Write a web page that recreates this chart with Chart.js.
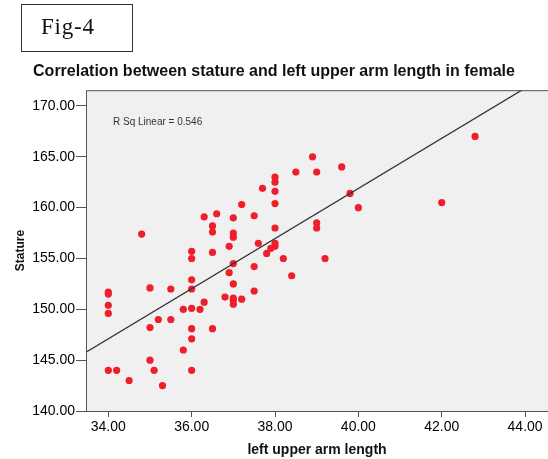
<!DOCTYPE html>
<html>
<head>
<meta charset="utf-8">
<script src="https://cdn.jsdelivr.net/npm/chart.js@4.4.1/dist/chart.umd.min.js"></script>
<style>
  html, body { margin: 0; padding: 0; background: #ffffff; }
  #wrap { position: relative; width: 548px; height: 459px; overflow: hidden; }
  #fig { position: absolute; left: 21px; top: 4px; width: 110px; height: 46px;
         border: 1.5px solid #333; font-family: 'Liberation Serif', 'Times New Roman', serif;
         font-size: 23px; color: #111; letter-spacing: 0.8px; box-sizing: content-box; }
  #fig span { position: absolute; left: 19px; top: 10px; line-height: 23px; }
  canvas { position: absolute; left: 0; top: 0; }
</style>
</head>
<body>
<div id="wrap">
  <canvas id="c" width="548" height="459"></canvas>
  <div id="fig"><span>Fig-4</span></div>
</div>
<script>
// ---- data ----
const armLength = [
  34.0, 34.0, 34.0, 34.0, 34.0, 34.2, 34.5, 34.8, 35.0, 35.0,
  35.0, 35.1, 35.2, 35.3, 35.5, 35.5, 35.8, 35.8, 36.0, 36.0,
  36.0, 36.0, 36.0, 36.0, 36.0, 36.0, 36.2, 36.3, 36.3, 36.5,
  36.5, 36.5, 36.5, 36.6, 36.8, 36.9, 36.9, 37.0, 37.0, 37.0,
  37.0, 37.0, 37.0, 37.0, 37.0, 37.2, 37.2, 37.5, 37.5, 37.5,
  37.6, 37.7, 37.8, 37.9, 38.0, 38.0, 38.0, 38.0, 38.0, 38.0,
  38.0, 38.2, 38.4, 38.5, 38.9, 39.0, 39.0, 39.0, 39.2, 39.6,
  39.8, 40.0, 42.0, 42.8
];
const stature = [
  151.7, 151.5, 150.4, 149.6, 144.0, 144.0, 143.0, 157.4, 152.1, 148.2,
  145.0, 144.0, 149.0, 142.5, 152.0, 149.0, 150.0, 146.0, 155.7, 155.0,
  152.9, 152.0, 150.1, 148.1, 147.1, 144.0, 150.0, 159.1, 150.7, 158.2,
  157.6, 155.6, 148.1, 159.4, 151.2, 156.2, 153.6, 159.0, 157.5, 157.1,
  154.5, 152.5, 151.1, 150.9, 150.5, 160.3, 151.0, 159.2, 154.2, 151.8,
  156.5, 161.9, 155.5, 156.0, 163.0, 162.5, 161.6, 160.4, 158.0, 156.5,
  156.2, 155.0, 153.3, 163.5, 165.0, 163.5, 158.5, 158.0, 155.0, 164.0,
  161.4, 160.0, 160.5, 167.0
];
const fitSlope = 2.464;
const fitIntercept = 63.33;
const rSqText = 'R Sq Linear = 0.546';
const xTicks = [34, 36, 38, 40, 42, 44];
const yTicks = [140, 145, 150, 155, 160, 165, 170];
const xRange = [33.465, 44.55];
const yRange = [140, 171.55];
const titleText = 'Correlation between stature and left upper arm length in female';
const xTitle = 'left upper arm length';
const yTitle = 'Stature';

const points = armLength.map((x, i) => ({ x: x, y: stature[i] }));
const fitPoints = xRange.map(x => ({ x: x, y: fitIntercept + fitSlope * x }));

const framePlugin = {
  id: 'frame',
  beforeDatasetsDraw(chart) {
    const { ctx, chartArea: a } = chart;
    ctx.save();
    ctx.fillStyle = '#f0f0f0';
    ctx.fillRect(a.left, a.top, a.right - a.left, a.bottom - a.top);
    ctx.restore();
  },
  afterDraw(chart) {
    const { ctx, chartArea: a } = chart;
    ctx.save();
    ctx.strokeStyle = '#555';
    ctx.lineWidth = 1;
    ctx.beginPath();
    ctx.moveTo(a.left + 0.5, a.bottom);
    ctx.lineTo(a.left + 0.5, a.top + 0.5);
    ctx.lineTo(a.right, a.top + 0.5);
    ctx.stroke();
    ctx.fillStyle = '#333';
    ctx.font = "10px 'Liberation Sans', Arial, sans-serif";
    ctx.textBaseline = 'middle';
    ctx.textAlign = 'left';
    ctx.fillText(rSqText, a.left + 27, a.top + 32);
    ctx.restore();
  }
};

const fontFam = "'Liberation Sans', Arial, sans-serif";

new Chart(document.getElementById('c'), {
  type: 'scatter',
  data: {
    datasets: [
      {
        label: 'fit',
        data: fitPoints,
        showLine: true,
        borderColor: '#333333',
        borderWidth: 1.3,
        pointRadius: 0,
        fill: false
      },
      {
        label: 'stature',
        data: points,
        pointRadius: 3.6,
        pointBackgroundColor: '#ee1f2a',
        pointBorderWidth: 0,
        borderWidth: 0
      }
    ]
  },
  options: {
    responsive: false,
    animation: false,
    devicePixelRatio: 1,
    layout: { autoPadding: false, padding: { left: 0, right: 0, top: 0, bottom: 0 } },
    plugins: {
      legend: { display: false },
      tooltip: { enabled: false },
      title: {
        display: true,
        text: titleText,
        color: '#111',
        font: { family: fontFam, size: 16, weight: 'bold' },
        padding: { top: 62, bottom: 9 }
      }
    },
    scales: {
      x: {
        type: 'linear',
        position: 'bottom',
        min: xRange[0],
        max: xRange[1],
        afterBuildTicks: s => { s.ticks = xTicks.map(v => ({ value: v })); },
        afterFit: s => { s.height = 48; s.paddingLeft = 0; s.paddingRight = 0; },
        grid: { drawOnChartArea: false, drawTicks: true, tickLength: 6, color: '#555' },
        border: { display: true, color: '#555' },
        ticks: {
          color: '#000',
          padding: 2,
          font: { family: fontFam, size: 14 },
          callback: v => Number(v).toFixed(2)
        },
        title: {
          display: true,
          text: xTitle,
          color: '#111',
          font: { family: fontFam, size: 14, weight: 'bold' },
          padding: { top: 0, bottom: 0 }
        }
      },
      y: {
        type: 'linear',
        position: 'left',
        min: yRange[0],
        max: yRange[1],
        afterBuildTicks: s => { s.ticks = yTicks.map(v => ({ value: v })); },
        afterFit: s => { s.width = 86; s.paddingTop = 0; s.paddingBottom = 0; },
        grid: { drawOnChartArea: false, drawTicks: true, tickLength: 10, color: '#555' },
        border: { display: true, color: '#555' },
        ticks: {
          color: '#000',
          padding: 1,
          font: { family: fontFam, size: 14 },
          callback: v => Number(v).toFixed(2)
        },
        title: {
          display: true,
          text: yTitle,
          color: '#111',
          font: { family: fontFam, size: 12, weight: 'bold' },
          padding: { top: 13, bottom: 0 }
        }
      }
    }
  },
  plugins: [framePlugin]
});
</script>
</body>
</html>
